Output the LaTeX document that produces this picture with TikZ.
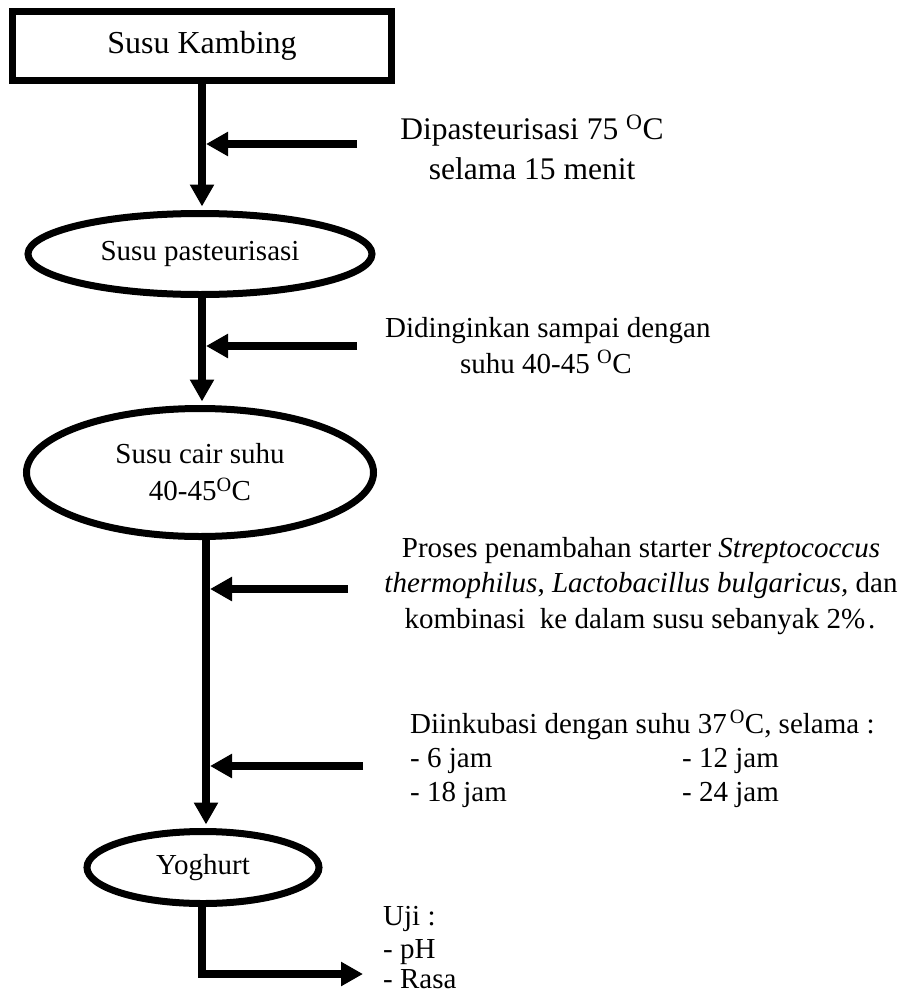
\documentclass[tikz,border=0pt]{standalone}
\usepackage{fontspec}
\setmainfont{Liberation Serif}
\usetikzlibrary{arrows.meta,shapes.geometric,calc}
\begin{document}
\begin{tikzpicture}[x=1pt,y=-1pt,
  every node/.style={font=\fontsize{29}{33.5}\selectfont},
  bigtext/.style={font=\fontsize{31.5}{36}\selectfont},
  flowline/.style={line width=7.5pt},
  arr/.style={flowline,-{Triangle[length=22pt,width=23pt]}},
  boxnode/.style={draw,line width=7pt,rectangle,minimum width=379pt,minimum height=69pt,inner sep=0pt},
  ell/.style={draw,line width=7pt,ellipse,inner sep=0pt},
  lbl/.style={inner sep=0pt,anchor=base},
  lbll/.style={inner sep=0pt,anchor=base west}]
\useasboundingbox (0,0) rectangle (908,993);

% main flow nodes
\node[boxnode,font=\fontsize{32}{36}\selectfont] (kambing) at (202,46) {Susu Kambing};
\node[ell,minimum width=344pt,minimum height=81pt] (past) at (200,254) {Susu pasteurisasi};
\node[ell,minimum width=347pt,minimum height=128pt,align=center,font=\fontsize{29}{37}\selectfont] (cair) at (200,472.5) {Susu cair suhu\\40-45\textsuperscript{O}C};
\node[ell,minimum width=232pt,minimum height=72pt] (yog) at (203,867.5) {Yoghurt};

% reference x positions of the vertical lines
\coordinate (lx) at (202,0);
\coordinate (lxr) at (206,0);
\coordinate (lx2) at (206,0);
\coordinate (lx2r) at (210,0);

% vertical connectors
\draw[arr] (kambing.south) -- ($(kambing.south |- past.north)+(0,-3.5)$);
\draw[arr] (past.south -| lx) -- ($(cair.north -| lx)+(0,-3.5)$);
\draw[arr] (cair.south -| lx2) -- ($(yog.north -| lx2)+(0,-3.5)$);
\coordinate (ujiend) at (363,974);
\draw[arr] (yog.south -| lx) |- (ujiend);

% side arrows
\coordinate (h1) at (357,144);
\coordinate (h2) at (357,346);
\coordinate (h3) at (348,589);
\coordinate (h4) at (363,766);
\draw[arr] (h1) -- (h1 -| lxr);
\draw[arr] (h2) -- (h2 -| lxr);
\draw[arr] (h3) -- (h3 -| lx2r);
\draw[arr] (h4) -- (h4 -| lx2r);

% side texts
\node[lbl,bigtext] (t1a) at (532,139) {Dipasteurisasi 75 \textsuperscript{O}C};
\node[lbl,bigtext] (t1b) at (532,179) {selama 15 menit};
\node[lbll] (t2a) at (385,337) {Didinginkan sampai dengan};
\node[lbll] (t2b) at (460,373) {suhu 40-45 \textsuperscript{O}C};
\node[lbl] (t3a) at (641,557) {Proses penambahan starter \textit{Streptococcus}};
\node[lbl] (t3b) at (641,592) {\textit{thermophilus}, \textit{Lactobacillus bulgaricus,} dan};
\node[lbl] (t3c) at (640,628) {kombinasi\ \ ke dalam susu sebanyak 2\%\kern3pt.};
\node[lbll] (t4a) at (410,733) {Diinkubasi dengan suhu 37\kern3pt\textsuperscript{O}C, selama :};
\node[lbll] (t4b) at (410,767) {- 6 jam};
\node[lbll] (t4c) at (682,767) {- 12 jam};
\node[lbll] (t4d) at (410,801) {- 18 jam};
\node[lbll] (t4e) at (682,801) {- 24 jam};
\node[lbll] (u1) at (383,925) {Uji :};
\node[lbll] (u2) at (383,958) {- pH};
\node[lbll] (u3) at (383,988) {- Rasa};
\end{tikzpicture}
\end{document}
